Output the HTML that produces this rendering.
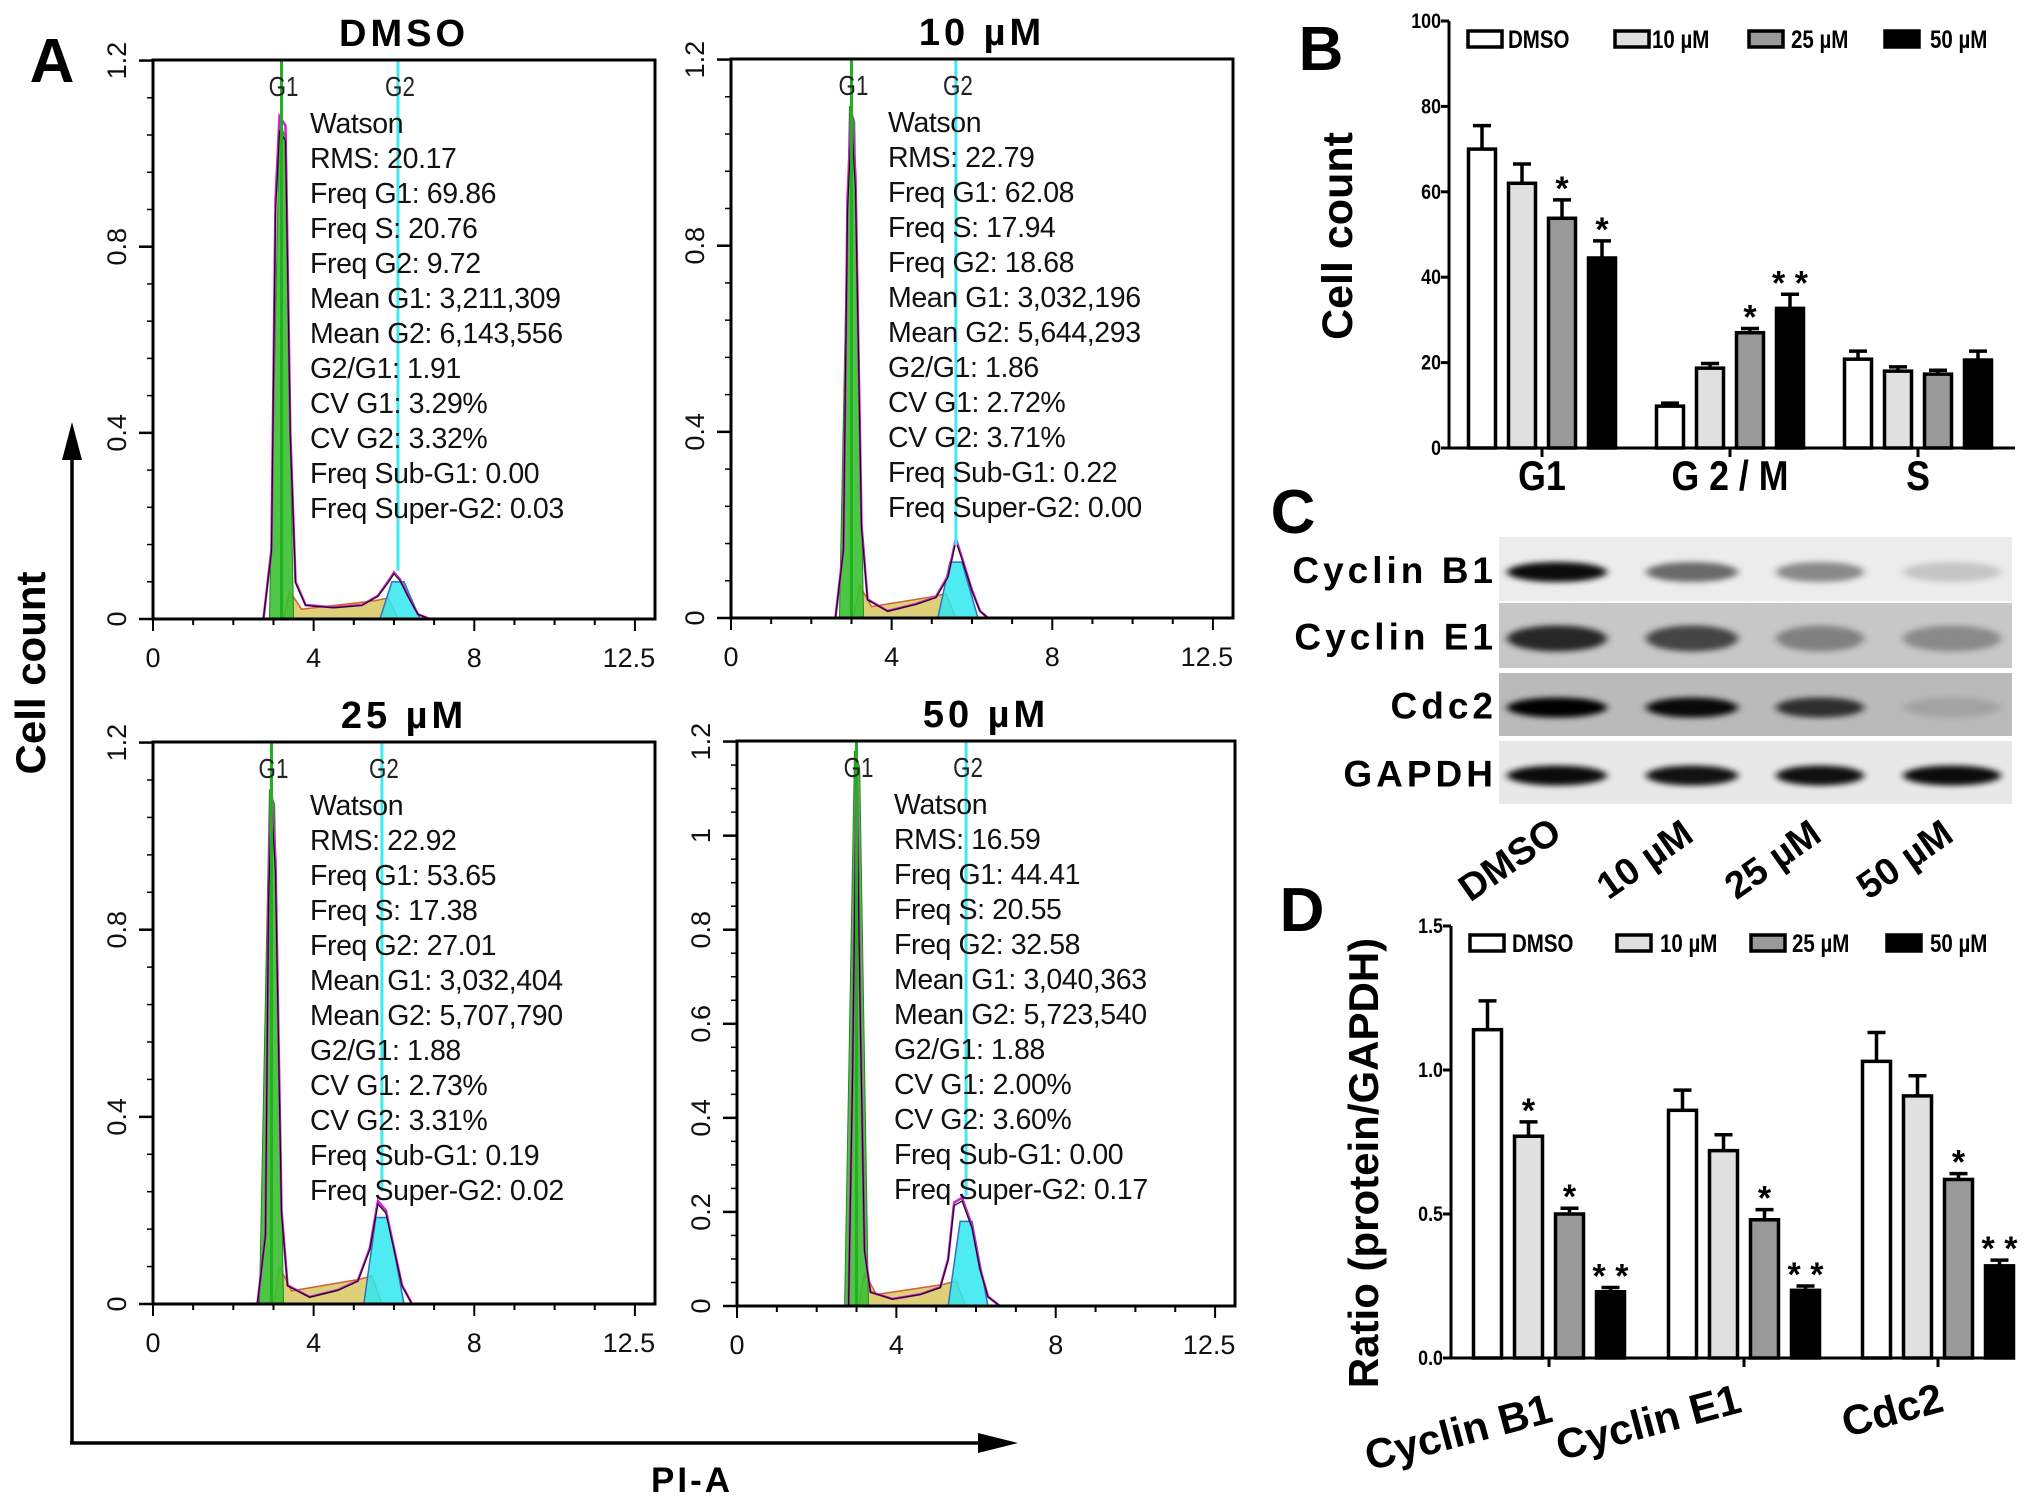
<!DOCTYPE html>
<html><head><meta charset="utf-8"><style>
html,body{margin:0;padding:0;background:#fff;}
svg{display:block;}
text{font-family:"Liberation Sans",sans-serif;}
</style></head><body>
<svg id="fig" xmlns="http://www.w3.org/2000/svg" width="2031" height="1500" viewBox="0 0 2031 1500">
<defs>
<filter id="blur" x="-20%" y="-50%" width="140%" height="200%"><feGaussianBlur stdDeviation="4 3"/></filter>
<filter id="grain" x="0" y="0" width="100%" height="100%"><feTurbulence type="fractalNoise" baseFrequency="0.9" numOctaves="2" seed="3"/><feColorMatrix type="matrix" values="0 0 0 0 0.5  0 0 0 0 0.5  0 0 0 0 0.5  0 0 0 -1.1 1.0"/></filter>
</defs>
</svg>
<script>
// ---------- DATA ----------
const histTitles = ['DMSO','10 µM','25 µM','50 µM'];
const histYTicks = [[0,0.4,0.8,1.2],[0,0.4,0.8,1.2],[0,0.4,0.8,1.2],[0,0.2,0.4,0.6,0.8,1,1.2]];
const histYLabels = [['0','0.4','0.8','1.2'],['0','0.4','0.8','1.2'],['0','0.4','0.8','1.2'],['0','0.2','0.4','0.6','0.8','1','1.2']];
const histXTicks = [0,4,8,12];
const histXLabels = ['0','4','8','12.5'];
const g1Mean = [3.2,3.0,2.95,3.0];
const g2Mean = [6.1,5.6,5.7,5.75];
const envDMSO = [[2.75,0],[2.95,0.15],[3.05,0.9],[3.15,1.08],[3.3,1.06],[3.42,0.4],[3.55,0.08],[3.8,0.03],[4.5,0.025],[5.2,0.03],[5.6,0.05],[5.85,0.08],[6.0,0.1],[6.15,0.085],[6.35,0.05],[6.6,0.01],[6.9,0]];
const env10 = [[2.6,0],[2.8,0.15],[2.9,0.9],[3.0,1.1],[3.1,0.95],[3.25,0.2],[3.4,0.04],[3.9,0.015],[4.6,0.03],[5.1,0.045],[5.4,0.09],[5.6,0.17],[5.75,0.13],[6.0,0.06],[6.2,0.015],[6.4,0]];
const env25 = [[2.6,0],[2.8,0.15],[2.88,0.9],[2.95,1.1],[3.05,0.95],[3.2,0.2],[3.35,0.04],[3.9,0.015],[4.6,0.03],[5.1,0.05],[5.4,0.12],[5.6,0.22],[5.8,0.2],[6.0,0.12],[6.2,0.04],[6.45,0]];
const env50 = [[2.8,0],[2.9,0.5],[3.0,1.18],[3.1,0.6],[3.2,0.12],[3.35,0.03],[3.9,0.015],[4.6,0.025],[5.1,0.04],[5.3,0.1],[5.45,0.22],[5.65,0.23],[5.9,0.17],[6.1,0.08],[6.3,0.02],[6.6,0]];
const envelopes = [envDMSO, env10, env25, env50];
const g1Peak = [1.07,1.1,1.1,1.18];
const g2Peak = [0.08,0.12,0.185,0.18];
const sLevel = [0.03,0.035,0.04,0.035];
const statsDMSO = ['Watson','RMS: 20.17','Freq G1: 69.86','Freq S: 20.76','Freq G2: 9.72','Mean G1: 3,211,309','Mean G2: 6,143,556','G2/G1: 1.91','CV G1: 3.29%','CV G2: 3.32%','Freq Sub-G1: 0.00','Freq Super-G2: 0.03'];
const stats10 = ['Watson','RMS: 22.79','Freq G1: 62.08','Freq S: 17.94','Freq G2: 18.68','Mean G1: 3,032,196','Mean G2: 5,644,293','G2/G1: 1.86','CV G1: 2.72%','CV G2: 3.71%','Freq Sub-G1: 0.22','Freq Super-G2: 0.00'];
const stats25 = ['Watson','RMS: 22.92','Freq G1: 53.65','Freq S: 17.38','Freq G2: 27.01','Mean G1: 3,032,404','Mean G2: 5,707,790','G2/G1: 1.88','CV G1: 2.73%','CV G2: 3.31%','Freq Sub-G1: 0.19','Freq Super-G2: 0.02'];
const stats50 = ['Watson','RMS: 16.59','Freq G1: 44.41','Freq S: 20.55','Freq G2: 32.58','Mean G1: 3,040,363','Mean G2: 5,723,540','G2/G1: 1.88','CV G1: 2.00%','CV G2: 3.60%','Freq Sub-G1: 0.00','Freq Super-G2: 0.17'];
const statsAll = [statsDMSO, stats10, stats25, stats50];

const seriesNames = ['DMSO','10 µM','25 µM','50 µM'];
const seriesFill = ['#ffffff','#e0e0e0','#999999','#000000'];
const bCategories = ['G1','G 2 / M','S'];
const bDMSO = [70,9.8,20.8];
const b10 = [62,18.7,18];
const b25 = [53.8,27,17.3];
const b50 = [44.5,32.7,20.6];
const bErrDMSO = [5.5,0.7,1.9];
const bErr10 = [4.5,1.1,1.0];
const bErr25 = [4.3,1.0,0.9];
const bErr50 = [4.0,3.3,2.1];
const bStars = [['','','*','*'],['','','*','**'],['','','','']];
const bYTicks = [0,20,40,60,80,100];

const dCategories = ['Cyclin B1','Cyclin E1','Cdc2'];
const dDMSO = [1.14,0.86,1.03];
const d10 = [0.77,0.72,0.91];
const d25 = [0.50,0.48,0.62];
const d50 = [0.23,0.235,0.32];
const dErrDMSO = [0.1,0.07,0.1];
const dErr10 = [0.05,0.055,0.07];
const dErr25 = [0.02,0.035,0.02];
const dErr50 = [0.015,0.015,0.02];
const dStars = [['','*','*','**'],['','','*','**'],['','','*','**']];
const dYTicks = [0,0.5,1.0,1.5];
const dYLabels = ['0.0','0.5','1.0','1.5'];

const blotProteins = ['Cyclin B1','Cyclin E1','Cdc2','GAPDH'];
const blotLanes = ['DMSO','10 µM','25 µM','50 µM'];
const intB1 = [0.95,0.55,0.42,0.16];
const intE1 = [0.8,0.65,0.35,0.3];
const intCdc2 = [1.0,0.95,0.75,0.12];
const intGAPDH = [0.95,0.92,0.93,0.95];
const blotInt = [intB1,intE1,intCdc2,intGAPDH];

// ---------- HELPERS ----------
const svg = document.getElementById('fig');
const NS = 'http://www.w3.org/2000/svg';
function mk(tag, attrs, parent){
  const e = document.createElementNS(NS, tag);
  for (const k in attrs) e.setAttribute(k, attrs[k]);
  (parent||svg).appendChild(e);
  return e;
}
function txt(str, attrs, parent){
  const e = mk('text', attrs, parent);
  e.textContent = str;
  return e;
}

// ---------- PANEL LETTERS ----------
[['A',52,82],['B',1321,70],['C',1293,533],['D',1302,931]].forEach(p=>{
  const t = txt(p[0],{x:p[1],y:p[2],'font-size':62,'font-weight':'bold','text-anchor':'middle'});
  
  
});

// ---------- PANEL A ----------
const plots = [[153,60,655,619],[731,59,1233,618],[153,742,655,1304],[737,741,1235,1306]];
plots.forEach((p,i)=>{
  const [L,T,R,B] = p;
  const W = R-L, H = B-T;
  const g = mk('g',{});
  
  
  const xs = v => L + v/12.5*W;
  const ys = v => B - v/1.2*(H*0.999);
  const ttl = txt(histTitles[i],{x:(L+R)/2,y:T-14,'font-size':38,'font-weight':'bold','text-anchor':'middle','letter-spacing':4},g);
  
  
  const sPts = [[g1Mean[i]+0.05,0],[g1Mean[i]+0.2,sLevel[i]*2],[g1Mean[i]+0.5,sLevel[i]*0.7],[g2Mean[i]-0.6,sLevel[i]*1.3],[g2Mean[i]-0.25,sLevel[i]*1.5],[g2Mean[i],0]];
  const sp = mk('polygon',{points:sPts.map(q=>xs(q[0])+','+ys(q[1])).join(' '),fill:'#d8c860','fill-opacity':0.85,stroke:'#d06030','stroke-width':1.5},g);
  
  
  const g2p = [[g2Mean[i]-0.45,0],[g2Mean[i]-0.15,g2Peak[i]],[g2Mean[i]+0.15,g2Peak[i]],[g2Mean[i]+0.55,0]];
  const c2 = mk('polygon',{points:g2p.map(q=>xs(q[0])+','+ys(q[1])).join(' '),fill:'#30e8f0','fill-opacity':0.85,stroke:'#3070c0','stroke-width':1.5},g);
  
  
  const g1p = [[g1Mean[i]-0.3,0],[g1Mean[i]-0.05,g1Peak[i]],[g1Mean[i]+0.08,g1Peak[i]*0.97],[g1Mean[i]+0.3,0]];
  const c1 = mk('polygon',{points:g1p.map(q=>xs(q[0])+','+ys(q[1])).join(' '),fill:'#38c030','fill-opacity':0.9,stroke:'#228822','stroke-width':1},g);
  
  
  const env = envelopes[i];
  const ln = mk('polyline',{points:env.map(q=>xs(q[0])+','+ys(q[1])).join(' '),fill:'none',stroke:'#d020d0','stroke-width':2.5},g);
  
  
  const ln2 = mk('polyline',{points:env.map(q=>xs(q[0])+','+ys(q[1]*0.97)).join(' '),fill:'none',stroke:'#111','stroke-width':1.2},g);
  
  
  const m1 = mk('line',{x1:xs(g1Mean[i]),x2:xs(g1Mean[i]),y1:T,y2:B,stroke:'#20b020','stroke-width':3},g);
  
  
  const m2 = mk('line',{x1:xs(g2Mean[i]),x2:xs(g2Mean[i]),y1:T,y2:ys(g2Peak[i]*1.3),stroke:'#40e8f0','stroke-width':3},g);
  
  
  const l1 = txt('G1',{x:xs(g1Mean[i])+2,y:T+36,'font-size':28,'text-anchor':'middle','font-family':'Liberation Serif, serif',transform:`translate(${xs(g1Mean[i])+2},0) scale(0.8,1) translate(${-(xs(g1Mean[i])+2)},0)`,fill:'#222'},g);
  
  
  const l2 = txt('G2',{x:xs(g2Mean[i])+2,y:T+36,'font-size':28,'text-anchor':'middle','font-family':'Liberation Serif, serif',transform:`translate(${xs(g2Mean[i])+2},0) scale(0.8,1) translate(${-(xs(g2Mean[i])+2)},0)`,fill:'#222'},g);
  
  
  statsAll[i].forEach((s,k)=>{
    const st = txt(s,{x:L+157,y:T+73+k*35,'font-size':28.5,fill:'#111','letter-spacing':-0.4},g);
    
    
  });
  const fr = mk('rect',{x:L,y:T,width:W,height:H,fill:'none',stroke:'#000','stroke-width':3},g);
  
  
  for(let v=0; v<=12; v++){
    const mt = mk('line',{x1:xs(v),x2:xs(v),y1:B,y2:B+(histXTicks.includes(v)?12:6),stroke:'#000','stroke-width':2},g);
    
    
  }
  histXTicks.forEach((v,k)=>{
    const tl = txt(histXLabels[k],{x:xs(v)+(k===3?-6:0),y:B+48,'font-size':27,'text-anchor':'middle',fill:'#111'},g);
    
    
  });
  const yt = histYTicks[i];
  const step = (yt[1]-yt[0])/(i===3?4:5);
  for(let v=0; v<=1.2001; v+=step){
    const mt = mk('line',{x1:L,x2:L-6,y1:ys(v),y2:ys(v),stroke:'#000','stroke-width':1.5},g);
    
    
  }
  yt.forEach((v,k)=>{
    const mt = mk('line',{x1:L,x2:L-14,y1:ys(v),y2:ys(v),stroke:'#000','stroke-width':2.5},g);
    
    
    const yx = L-36, yy = ys(v);
    const tl = txt(histYLabels[i][k],{x:yx,y:yy,'font-size':27,'text-anchor':'middle','dominant-baseline':'central',fill:'#111',transform:`rotate(-90 ${yx} ${yy})`},g);
    
    
  });
});
const ya = mk('path',{d:'M72,1443 L72,450',stroke:'#000','stroke-width':3.5,fill:'none'});


const yah = mk('polygon',{points:'72,422 62,460 82,460',fill:'#000'});


const xa = mk('path',{d:'M70,1443 L985,1443',stroke:'#000','stroke-width':3.5,fill:'none'});


const xah = mk('polygon',{points:'1018,1443 978,1433 978,1453',fill:'#000'});


const ayl = txt('Cell count',{x:45,y:673,'font-size':42,'font-weight':'bold','text-anchor':'middle',transform:'rotate(-90 45 673)'});


const axl = txt('PI-A',{x:692,y:1492,'font-size':35,'font-weight':'bold','text-anchor':'middle','letter-spacing':3});



// ---------- BAR CHART HELPER ----------
function barChart(cfg){
  const {name, L, R, B0, T0, vmax, groupCenters, spacing, bw, series, errs, stars, yTicks, yLabels, cats, catX, catY, catRot, catSize, catScale, legendY, legendBoxes, legendText} = cfg;
  const g = mk('g',{});
  
  
  const ys = v => B0 - v/vmax*(B0-T0);
  series.forEach((vals,s)=>{
    vals.forEach((v,c)=>{
      const cx = groupCenters[c] + (s-1.5)*spacing;
      const e = errs[s][c];
      const eb = mk('path',{d:`M${cx},${ys(v)} L${cx},${ys(v+e)} M${cx-9},${ys(v+e)} L${cx+9},${ys(v+e)}`,stroke:'#000','stroke-width':3.5,fill:'none'},g);
      
      
      const r = mk('rect',{x:cx-bw/2,y:ys(v),width:bw,height:B0-ys(v),fill:seriesFill[s],stroke:'#000','stroke-width':3.5},g);
      
      
      const st = stars[c][s];
      if(st){
        const sy = ys(v+e)-12;
        const t = txt(st.split('').join(' '),{x:cx,y:sy+12,'font-size':34,'font-weight':'bold','text-anchor':'middle'},g);
        
        
      }
    });
  });
  const ax = mk('path',{d:`M${L},${T0} L${L},${B0} L${R},${B0}`,stroke:'#000','stroke-width':3,fill:'none'},g);
  
  
  groupCenters.forEach(gc=>{
    const tk = mk('line',{x1:gc,x2:gc,y1:B0,y2:B0+9,stroke:'#000','stroke-width':3},g);
    
    
  });
  yTicks.forEach((v,k)=>{
    const tk = mk('line',{x1:L,x2:L-8,y1:ys(v),y2:ys(v),stroke:'#000','stroke-width':3},g);
    
    
    const t = txt(yLabels[k],{x:L-8,y:ys(v)+7,'font-size':21,'font-weight':'bold','text-anchor':'end',transform:`translate(${L-8},0) scale(0.85,1) translate(${-(L-8)},0)`},g);
    
    
  });
  cats.forEach((c,k)=>{
    const cx = catX[k], cy = catY[k];
    const tr = catRot ? `rotate(${catRot} ${cx} ${cy})` : `translate(${cx},0) scale(${catScale},1) translate(${-cx},0)`;
    const t = txt(c,{x:cx,y:cy,'font-size':catSize,'font-weight':'bold','text-anchor':'middle',transform:tr},g);
    
    
  });
  seriesNames.forEach((n,s)=>{
    const bx = legendBoxes[s];
    const r = mk('rect',{x:bx,y:legendY-8,width:34,height:16,fill:seriesFill[s],stroke:'#000','stroke-width':3.5},g);
    
    
    const tx = legendText[s];
    const t = txt(n,{x:tx,y:legendY+9,'font-size':25,'font-weight':'bold',transform:`translate(${tx},0) scale(0.82,1) translate(${-tx},0)`},g);
    
    
  });
  return g;
}

// ---------- PANEL B ----------
barChart({name:'panel-b-cell-cycle-bars', L:1449, R:2015, B0:448, T0:21, vmax:100,
  groupCenters:[1542,1730,1918], spacing:40, bw:27,
  series:[bDMSO,b10,b25,b50], errs:[bErrDMSO,bErr10,bErr25,bErr50], stars:bStars,
  yTicks:bYTicks, yLabels:bYTicks.map(String), cats:bCategories, catX:[1542,1730,1918], catY:[490,490,490], catRot:0, catSize:42, catScale:0.85,
  legendY:39, legendBoxes:[1468,1615,1749,1885], legendText:[1508,1652,1791,1930]});
const byl = txt('Cell count',{x:1352,y:236,'font-size':43,'font-weight':'bold','text-anchor':'middle',transform:'rotate(-90 1352 236)'});



// ---------- PANEL C ----------
const blotTop = [537,603,673,741];
const blotBot = [601,668,736,804];
const blotBg = ['#ececec','#cacaca','#bababa','#e8e8e8'];
const laneX = [1557,1692,1820,1952];
const laneW = [100,92,88,98];
const cg = mk('g',{});


blotProteins.forEach((p,r)=>{
  const bg = mk('rect',{x:1499,y:blotTop[r],width:513,height:blotBot[r]-blotTop[r],fill:blotBg[r]},cg);
  
  
  if(r===1){
    const gr = mk('rect',{x:1499,y:blotTop[r],width:513,height:blotBot[r]-blotTop[r],filter:'url(#grain)',opacity:0.5},cg);
    
    
  }
  const cy = (blotTop[r]+blotBot[r])/2 + 3;
  blotInt[r].forEach((v,l)=>{
    const b = mk('ellipse',{cx:laneX[l],cy:cy,rx:laneW[l]/2,ry:r===1?13:10,fill:'#000',opacity:v,filter:'url(#blur)'},cg);
    
    
  });
  const t = txt(p,{x:1497,y:(blotTop[r]+blotBot[r])/2+14,'font-size':37,'font-weight':'bold','text-anchor':'end','letter-spacing':4},cg);
  
  
});
blotLanes.forEach((n,l)=>{
  const cx = laneX[l]-40, cy = 870;
  const t = txt(n,{x:cx,y:cy,'font-size':38,'font-weight':'bold','text-anchor':'middle',transform:`rotate(-35 ${cx} ${cy})`},cg);
  
  
});

// ---------- PANEL D ----------
barChart({name:'panel-d-protein-ratio-bars', L:1451, R:2015, B0:1358, T0:926, vmax:1.5,
  groupCenters:[1549,1744,1938], spacing:41, bw:28,
  series:[dDMSO,d10,d25,d50], errs:[dErrDMSO,dErr10,dErr25,dErr50], stars:dStars,
  yTicks:dYTicks, yLabels:dYLabels, cats:dCategories, catX:[1462,1652,1896], catY:[1446,1436,1424], catRot:-15, catSize:42, catScale:1,
  legendY:943, legendBoxes:[1470,1617,1751,1887], legendText:[1512,1660,1792,1930]});
const dyl = txt('Ratio (protein/GAPDH)',{x:1378,y:1163,'font-size':42,'font-weight':'bold','text-anchor':'middle',transform:'rotate(-90 1378 1163)'});


</script>
</body></html>
